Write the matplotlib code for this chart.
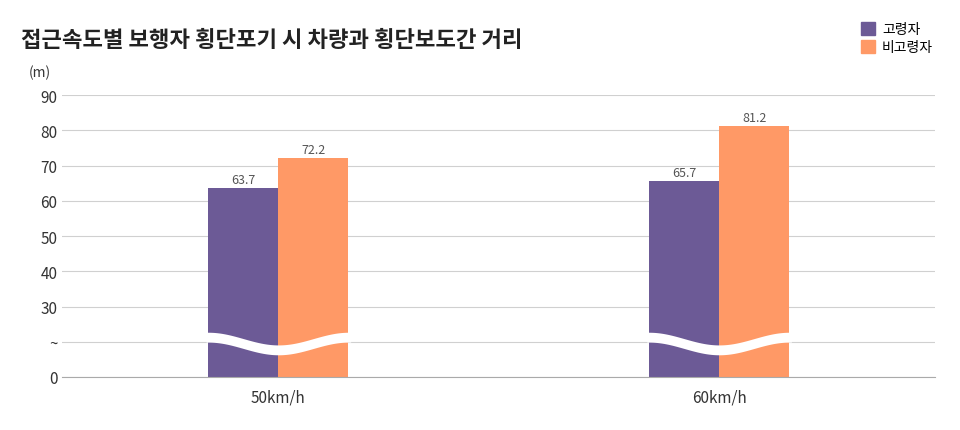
import numpy as np
import matplotlib.pyplot as plt
from matplotlib.patches import Patch

plt.rcParams['font.family'] = ['Noto Sans CJK KR', 'Noto Sans CJK JP', 'Noto Sans CJK SC', 'DejaVu Sans']

categories = ['50km/h', '60km/h']
elderly = [63.7, 65.7]
non_elderly = [72.2, 81.2]
series_names = ['고령자', '비고령자']
tick_labels = ['0', '~', '30', '40', '50', '60', '70', '80', '90']

OFFSET = 10  # axis is broken: 0, ~, then 30..90
c1, c2 = '#6c5a96', '#ff9966'

fig = plt.figure(figsize=(9.6, 4.31), dpi=100)
ax = fig.add_axes([0.065, 0.123, 0.909, 0.654])

x = np.arange(len(categories))
w = 0.159
ax.bar(x - w / 2, np.array(elderly) - OFFSET, w, color=c1, zorder=2)
ax.bar(x + w / 2, np.array(non_elderly) - OFFSET, w, color=c2, zorder=2)
for xi, a, b in zip(x, elderly, non_elderly):
    ax.text(xi - w / 2, a - OFFSET + 0.5, f'{a}', ha='center', va='bottom', fontsize=9, color='#555555')
    ax.text(xi + w / 2, b - OFFSET + 0.5, f'{b}', ha='center', va='bottom', fontsize=9, color='#555555')

# wavy white break band across the bars
for xi in x:
    xs = np.linspace(xi - w - 0.005, xi + w + 0.005, 200)
    phase = (xs - (xi - w)) / (2 * w) * 2 * np.pi
    yc = 9.5 + 1.8 * np.sin(phase + np.pi / 2)
    ax.fill_between(xs, yc - 1.4, yc + 1.4, color='white', zorder=3, lw=0)

ax.set_xlim(-0.49, 1.49)
ax.set_ylim(0, 80)
ax.set_yticks(np.arange(0, 81, 10))
ax.set_yticklabels(tick_labels)
ax.set_xticks(x)
ax.set_xticklabels(categories)
ax.grid(axis='y', color='#d0d0d0', lw=0.8, zorder=0)
for s in ['top', 'right', 'left']:
    ax.spines[s].set_visible(False)
ax.spines['bottom'].set_color('#aaaaaa')
ax.tick_params(length=0, labelsize=11, colors='#333333')
ax.tick_params(axis='x', pad=8)

fig.text(0.022, 0.905, '접근속도별 보행자 횡단포기 시 차량과 횡단보도간 거리', fontsize=16, fontweight='bold', color='#222222', va='center')
fig.text(0.03, 0.83, '(m)', fontsize=10, color='#333333', va='center')
fig.legend(handles=[Patch(color=c1), Patch(color=c2)], labels=series_names,
           loc='upper right', bbox_to_anchor=(0.985, 0.975), frameon=False,
           handlelength=1.0, handleheight=1.0, handletextpad=0.5, labelspacing=0.3, fontsize=10)

fig.savefig('out.png', dpi=100)
